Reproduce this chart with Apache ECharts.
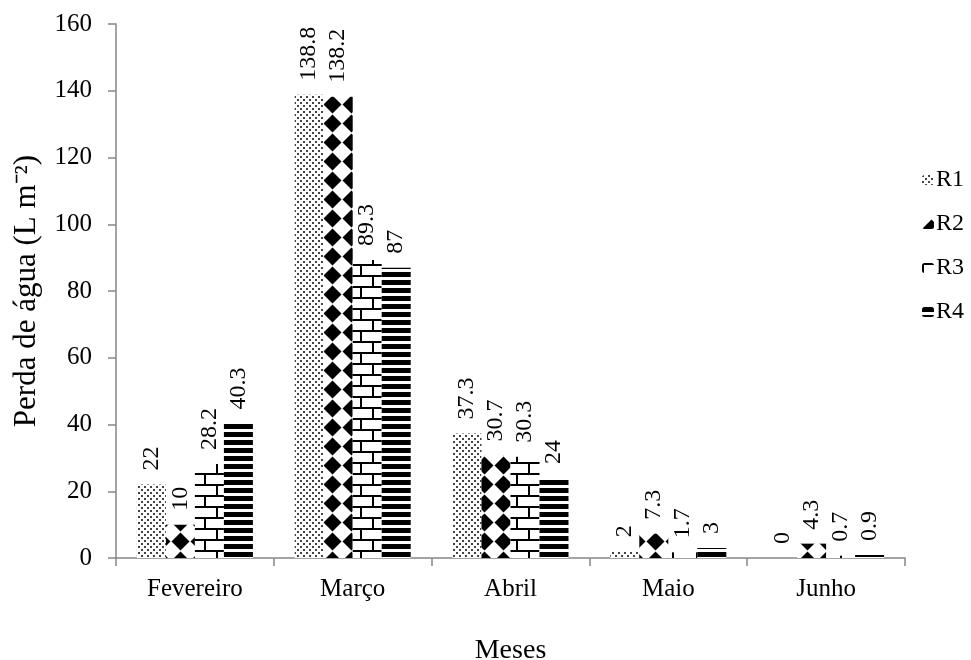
<!DOCTYPE html>
<html>
<head>
<meta charset="utf-8">
<script src="https://cdn.jsdelivr.net/npm/echarts@6/dist/echarts.min.js"></script>
<style>html,body{margin:0;padding:0;background:#fff}#c{width:971px;height:660px}</style>
</head>
<body>
<div id="c"></div>
<script>
const categories = ['Fevereiro', 'Março', 'Abril', 'Maio', 'Junho'];
const seriesNames = ['R1', 'R2', 'R3', 'R4'];
const r1 = [22, 138.8, 37.3, 2, 0];
const r2 = [10, 138.2, 30.7, 7.3, 4.3];
const r3 = [28.2, 89.3, 30.3, 1.7, 0.7];
const r4 = [40.3, 87, 24, 3, 0.9];
const yTicks = { min: 0, max: 160, interval: 20 };

function makeCanvas(w, h, draw) {
  const c = document.createElement('canvas');
  c.width = w; c.height = h;
  const g = c.getContext('2d');
  g.fillStyle = '#fff'; g.fillRect(0, 0, w, h);
  draw(g);
  return c;
}
const patDots = makeCanvas(6, 6, g => {
  g.fillStyle = '#444';
  g.fillRect(0, 0, 2, 2);
  g.fillRect(3, 3, 2, 2);
});
const patDiamond = makeCanvas(19, 19, g => {
  g.fillStyle = '#000';
  g.beginPath();
  g.moveTo(9.5, 0.5); g.lineTo(18.5, 9.5); g.lineTo(9.5, 18.5); g.lineTo(0.5, 9.5); g.closePath();
  g.fill();
});
const patBrick = makeCanvas(24, 22, g => {
  g.fillStyle = '#000';
  g.fillRect(0, 0, 24, 2);
  g.fillRect(0, 11, 24, 2);
  g.fillRect(0, 0, 2, 11);
  g.fillRect(12, 11, 2, 11);
});
const patStripe = makeCanvas(8, 8, g => {
  g.fillStyle = '#000';
  g.fillRect(0, 0, 8, 5);
});
const patterns = [patDots, patDiamond, patBrick, patStripe];
const dataSets = [r1, r2, r3, r4];

const font = '"Liberation Serif", "Times New Roman", serif';
const chart = echarts.init(document.getElementById('c'));
chart.setOption({
  animation: false,
  backgroundColor: '#fff',
  textStyle: { fontFamily: font, color: '#000' },
  grid: { left: 116, right: 66, top: 24, bottom: 102, containLabel: false, outerBoundsMode: 'none' },
  legend: {
    orient: 'vertical',
    left: 917,
    top: 163,
    itemWidth: 12,
    itemHeight: 10,
    itemGap: 20,
    data: seriesNames,
    textStyle: { fontFamily: font, fontSize: 24, color: '#000', padding: [0, 0, 0, -3] }
  },
  xAxis: {
    type: 'category',
    data: categories,
    name: 'Meses',
    nameLocation: 'middle',
    nameGap: 79,
    nameTextStyle: { fontFamily: font, fontSize: 28, color: '#000' },
    axisLine: { lineStyle: { color: '#868686', width: 1.5 } },
    axisTick: { show: true, length: 8, lineStyle: { color: '#868686', width: 1.5 } },
    axisLabel: { fontFamily: font, fontSize: 25, color: '#000', margin: 19 }
  },
  yAxis: {
    type: 'value',
    min: yTicks.min,
    max: yTicks.max,
    interval: yTicks.interval,
    name: 'Perda de água (L m⁻²)',
    nameLocation: 'middle',
    nameGap: 74,
    nameTextStyle: { fontFamily: font, fontSize: 31, color: '#000' },
    axisLine: { show: true, lineStyle: { color: '#868686', width: 1.5 } },
    axisTick: { show: true, length: 8, lineStyle: { color: '#868686', width: 1.5 } },
    splitLine: { show: false },
    axisLabel: { fontFamily: font, fontSize: 25, color: '#000', margin: 24 }
  },
  series: seriesNames.map((n, i) => ({
    name: n,
    type: 'bar',
    data: dataSets[i],
    barWidth: 29,
    barGap: '0%',
    itemStyle: { color: { image: patterns[i], repeat: 'repeat' } },
    label: {
      show: true,
      position: 'top',
      rotate: 90,
      align: 'left',
      verticalAlign: 'middle',
      distance: 14,
      fontFamily: font,
      fontSize: 24,
      color: '#000'
    }
  }))
});
</script>
</body>
</html>
